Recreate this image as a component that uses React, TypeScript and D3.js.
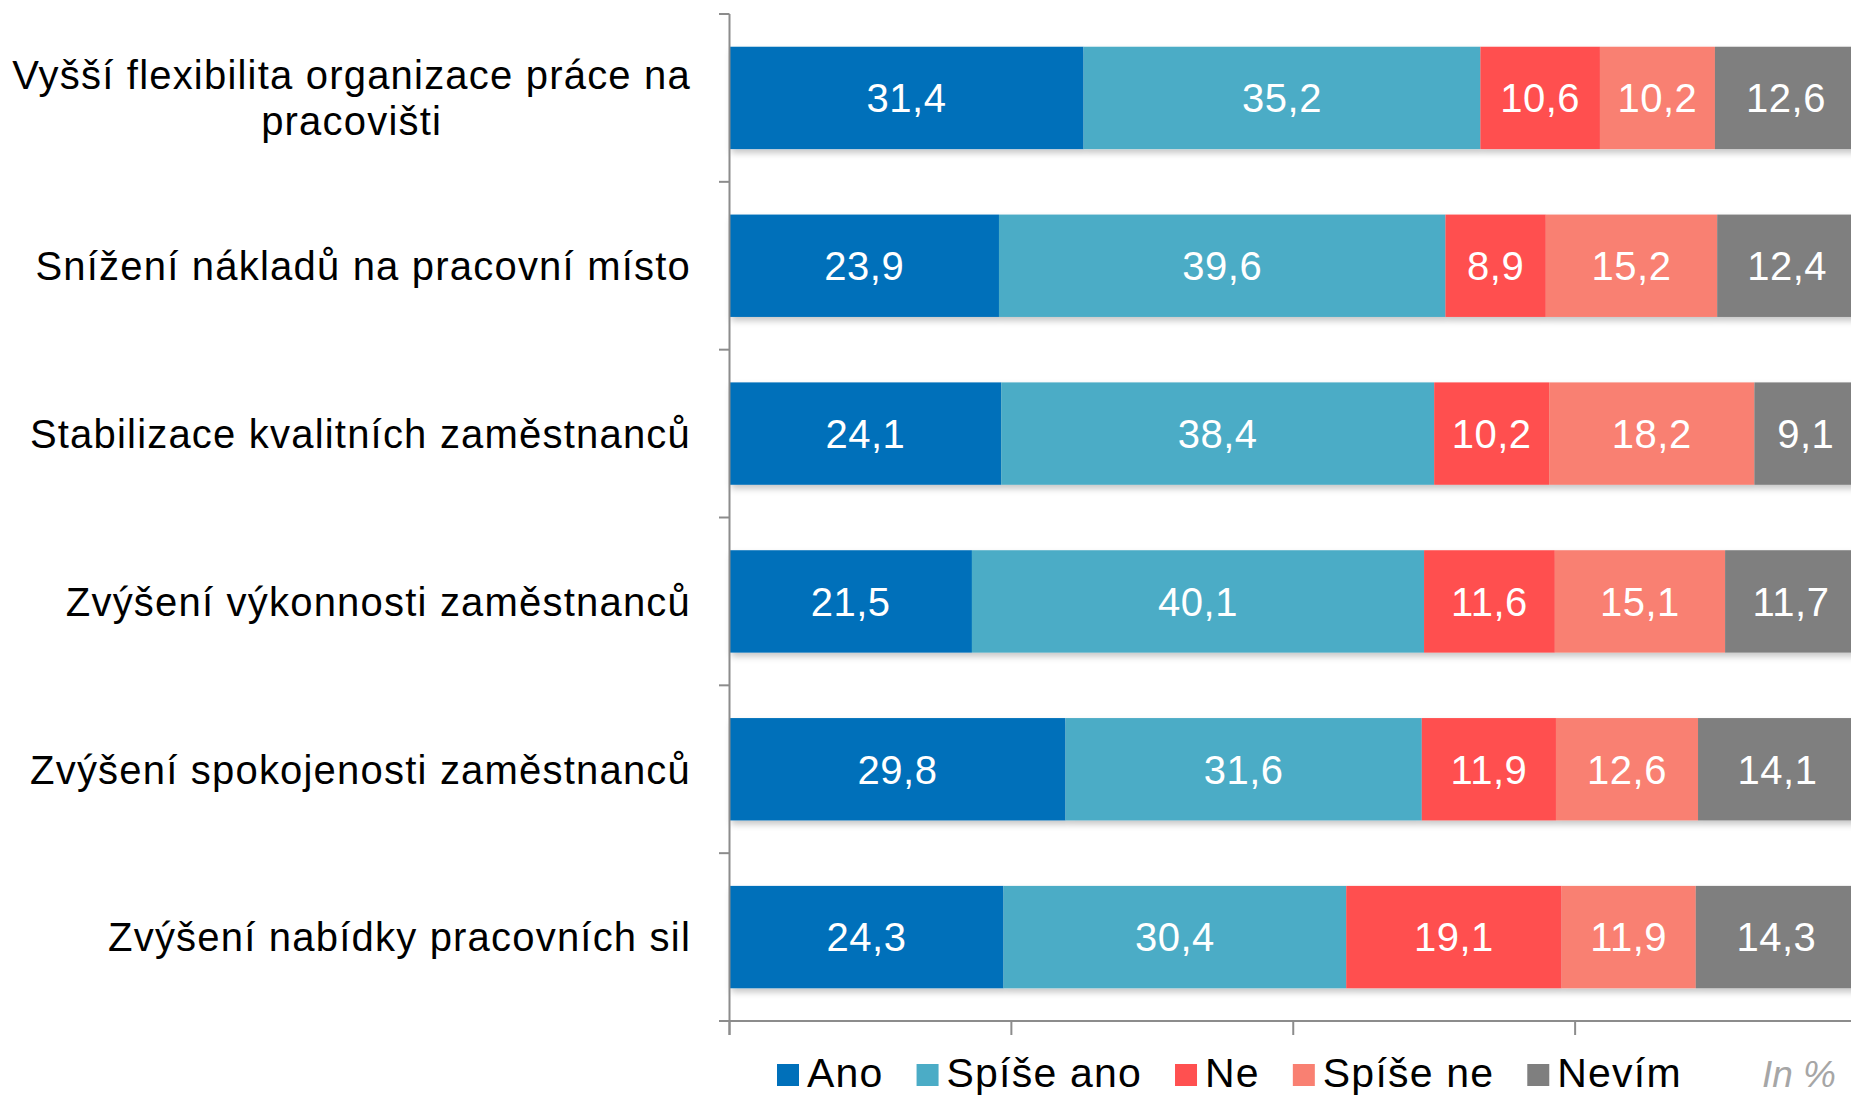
import React, { useRef, useEffect } from 'react';
import * as d3 from 'd3';

// categories (wrapped lines as in the original)
const categories = [
  ['Vyšší flexibilita organizace práce na', 'pracovišti'],
  ['Snížení nákladů na pracovní místo'],
  ['Stabilizace kvalitních zaměstnanců'],
  ['Zvýšení výkonnosti zaměstnanců'],
  ['Zvýšení spokojenosti zaměstnanců'],
  ['Zvýšení nabídky pracovních sil'],
];

const seriesNames = ['Ano', 'Spíše ano', 'Ne', 'Spíše ne', 'Nevím'];
const seriesColors = ['#0070BA', '#4BACC6', '#FF5050', '#F98072', '#7F7F7F'];

const ano = [31.4, 23.9, 24.1, 21.5, 29.8, 24.3];
const spiseAno = [35.2, 39.6, 38.4, 40.1, 31.6, 30.4];
const ne = [10.6, 8.9, 10.2, 11.6, 11.9, 19.1];
const spiseNe = [10.2, 15.2, 18.2, 15.1, 12.6, 11.9];
const nevim = [12.6, 12.4, 9.1, 11.7, 14.1, 14.3];

const xTicks = [0, 25, 50, 75, 100];
const unitNote = 'In %';

const width = 1851;
const height = 1097;
const font = '"Liberation Sans", Arial, sans-serif';

const App = () => {
  const ref = useRef<SVGSVGElement>(null);

  useEffect(() => {
    if (!ref.current) return;
    const svg = d3.select(ref.current);
    svg.selectAll('*').remove();

    const values = [ano, spiseAno, ne, spiseNe, nevim];
    const rows = categories.map((c, i) => {
      const r: any = { key: c.join(' ') };
      seriesNames.forEach((s, j) => (r[s] = values[j][i]));
      return r;
    });
    const stacked = d3.stack().keys(seriesNames)(rows);

    const x = d3.scaleLinear().domain([0, 100]).range([729.5, 1857]);
    const y = d3
      .scaleBand()
      .domain(rows.map(r => r.key))
      .range([14, 1021])
      .paddingInner(0.39)
      .paddingOuter(0.195);
    const step = y.step();

    const defs = svg.append('defs');
    const f = defs
      .append('filter')
      .attr('id', 'shadow')
      .attr('x', '-5%')
      .attr('y', '-20%')
      .attr('width', '110%')
      .attr('height', '150%');
    f.append('feDropShadow')
      .attr('dx', 2)
      .attr('dy', 4)
      .attr('stdDeviation', 3)
      .attr('flood-color', '#000')
      .attr('flood-opacity', 0.22);

    // bars
    const bars = svg.append('g').attr('filter', 'url(#shadow)');
    stacked.forEach((layer, j) => {
      bars
        .append('g')
        .attr('fill', seriesColors[j])
        .selectAll('rect')
        .data(layer)
        .enter()
        .append('rect')
        .attr('x', d => x(d[0]))
        .attr('y', (d: any) => y(d.data.key)!)
        .attr('width', d => x(d[1]) - x(d[0]))
        .attr('height', y.bandwidth());
    });

    // value labels
    stacked.forEach(layer => {
      svg
        .append('g')
        .selectAll('text')
        .data(layer)
        .enter()
        .append('text')
        .attr('x', d => (x(d[0]) + x(d[1])) / 2)
        .attr('y', (d: any) => y(d.data.key)! + y.bandwidth() / 2)
        .attr('dy', '0.36em')
        .attr('text-anchor', 'middle')
        .attr('fill', '#fff')
        .style('font-family', font)
        .style('font-size', '40px')
        .style('letter-spacing', '0.5px')
        .text(d => d3.format('.1f')(d[1] - d[0]).replace('.', ','));
    });

    // axes
    const axisColor = '#8C8C8C';
    const ax = svg.append('g').attr('stroke', axisColor).attr('stroke-width', 2);
    ax.append('line')
      .attr('x1', x(0))
      .attr('x2', x(0))
      .attr('y1', 14)
      .attr('y2', 1035);
    ax.append('line')
      .attr('x1', 719)
      .attr('x2', width)
      .attr('y1', 1021)
      .attr('y2', 1021);
    const bounds = d3.range(categories.length + 1).map(i => 14 + i * step);
    ax.selectAll('line.ytick')
      .data(bounds)
      .enter()
      .append('line')
      .attr('class', 'ytick')
      .attr('x1', 719)
      .attr('x2', x(0))
      .attr('y1', d => d)
      .attr('y2', d => d);
    ax.selectAll('line.xtick')
      .data(xTicks)
      .enter()
      .append('line')
      .attr('class', 'xtick')
      .attr('x1', d => x(d))
      .attr('x2', d => x(d))
      .attr('y1', 1021)
      .attr('y2', 1035);

    // category labels
    const labelRight = 691;
    const lineGap = 46;
    rows.forEach((r, i) => {
      const lines = categories[i];
      const cy = y(r.key)! + y.bandwidth() / 2;
      const g = svg
        .append('g')
        .style('font-family', font)
        .style('font-size', '40px')
        .style('letter-spacing', '1.2px')
        .attr('fill', '#000');
      const texts = g
        .selectAll('text')
        .data(lines)
        .enter()
        .append('text')
        .attr('y', (d, k) => cy + (k - (lines.length - 1) / 2) * lineGap)
        .attr('dy', '0.36em')
        .text(d => d);
      if (lines.length === 1) {
        texts.attr('x', labelRight).attr('text-anchor', 'end');
      } else {
        let maxW = 0;
        texts.each(function () {
          maxW = Math.max(maxW, (this as SVGTextElement).getComputedTextLength());
        });
        texts.attr('x', labelRight - maxW / 2).attr('text-anchor', 'middle');
      }
    });

    // legend
    const legend = svg
      .append('g')
      .style('font-family', font)
      .style('font-size', '41px')
      .style('letter-spacing', '1.2px');
    let lx = 777;
    seriesNames.forEach((s, j) => {
      legend
        .append('rect')
        .attr('x', lx)
        .attr('y', 1064)
        .attr('width', 22)
        .attr('height', 22)
        .attr('fill', seriesColors[j]);
      const t = legend
        .append('text')
        .attr('x', lx + 30)
        .attr('y', 1087)
        .attr('fill', '#000')
        .text(s);
      lx += 30 + (t.node() as SVGTextElement).getComputedTextLength() + 33;
    });

    svg
      .append('text')
      .attr('x', 1836)
      .attr('y', 1087)
      .attr('text-anchor', 'end')
      .attr('fill', '#A6A6A6')
      .style('font-family', font)
      .style('font-size', '37px')
      .style('font-style', 'italic')
      .text(unitNote);
  }, []);

  return (
    <svg
      ref={ref}
      width={width}
      height={height}
      style={{ position: 'absolute', left: 0, top: 0, background: '#fff' }}
    />
  );
};

export default App;
